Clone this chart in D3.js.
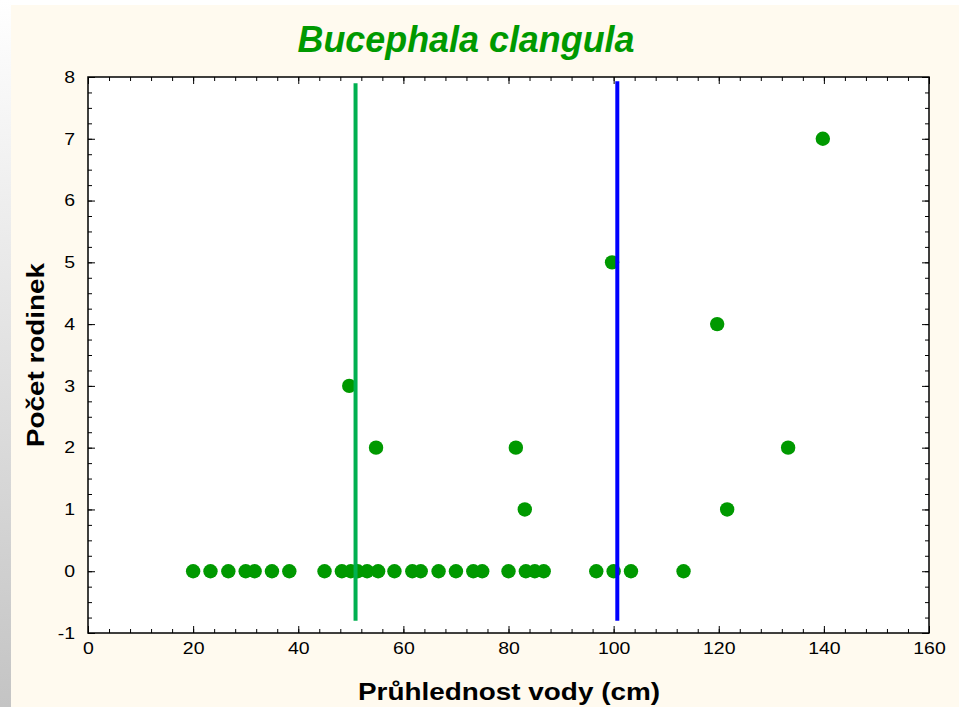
<!DOCTYPE html>
<html>
<head>
<meta charset="utf-8">
<script src="https://cdn.jsdelivr.net/npm/d3@7"></script>
<style>
    html, body { margin: 0; padding: 0; background: #fff; }
    svg { display: block; font-family: Arial, "Liberation Sans", sans-serif; }
</style>
</head>
<body>
<div id="draw"></div>
<script>
(function () {
    "use strict";

    // points sitting on zero
    var zeroX = [20, 23.3, 26.7, 30, 31.7, 35, 38.3, 45, 48.3, 50, 51.3, 53.1, 55.2, 58.3,
        61.7, 63.3, 66.7, 70, 73.3, 75, 80, 83.3, 85, 86.7, 96.7, 100, 103.3, 113.3];
    // the rest
    var upX = [49.7, 54.8, 81.4, 83.1, 99.7, 119.7, 121.6, 133.2, 139.8];
    var upY = [3, 2, 2, 1, 5, 4, 1, 2, 7];

    var xTicks = [0, 20, 40, 60, 80, 100, 120, 140, 160];
    var yTicks = [-1, 0, 1, 2, 3, 4, 5, 6, 7, 8];

    // vertical reference lines: x, from, to, colour
    var refX = [50.9, 100.7];
    var refFrom = [-0.8, -0.8];
    var refTo = [7.9, 7.93];
    var refColor = ['#00b050', '#0000ff'];

    var W = 959, H = 707;
    var L = 88, R = 929, T = 77, B = 633;

    var points = zeroX.map(function (x) { return {x: x, y: 0}; })
        .concat(upX.map(function (x, i) { return {x: x, y: upY[i]}; }));

    var svg = d3.select('#draw').append('svg').attr('width', W).attr('height', H);

    // left grey strip
    var grad = svg.append('defs').append('linearGradient')
        .attr('id', 'strip').attr('x1', 0).attr('y1', 0).attr('x2', 0).attr('y2', 1);
    grad.append('stop').attr('offset', '0%').attr('stop-color', '#ffffff');
    grad.append('stop').attr('offset', '100%').attr('stop-color', '#c4c4c4');
    svg.append('rect').attr('x', 0).attr('y', 0).attr('width', 11).attr('height', H)
        .attr('fill', 'url(#strip)');
    svg.append('rect').attr('x', 11).attr('y', 5).attr('width', W - 11).attr('height', H - 5)
        .attr('fill', '#fffaef');

    var x = d3.scaleLinear().domain([0, 160]).range([L, R]);
    var y = d3.scaleLinear().domain([-1, 8]).range([B, T]);

    svg.append('rect').attr('x', L).attr('y', T).attr('width', R - L).attr('height', B - T)
        .attr('fill', '#fff');

    var minorX = d3.range(0, 161, 4), minorY = d3.range(-1, 8.01, 0.25);

    // the original text is a bit stretched sideways
    function stretch(sel, k) {
        sel.each(function () {
            var w = this.getComputedTextLength();
            d3.select(this).attr('textLength', w * k).attr('lengthAdjust', 'spacingAndGlyphs');
        });
    }

    function styleAxis(g) {
        g.select('.domain').remove();
        g.selectAll('line').attr('stroke', '#000');
        g.selectAll('text').attr('fill', '#000').attr('font-size', 16.5);
    }

    var plain = function (d) { return String(d); }; // hyphen, not unicode minus

    // minor ticks all round
    svg.append('g').attr('transform', 'translate(0,' + B + ')')
        .call(d3.axisBottom(x).tickValues(minorX).tickSize(-4).tickFormat(''))
        .call(styleAxis);
    svg.append('g').attr('transform', 'translate(0,' + T + ')')
        .call(d3.axisTop(x).tickValues(minorX).tickSize(-4).tickFormat(''))
        .call(styleAxis);
    svg.append('g').attr('transform', 'translate(' + L + ',0)')
        .call(d3.axisLeft(y).tickValues(minorY).tickSize(-4).tickFormat(''))
        .call(styleAxis);
    svg.append('g').attr('transform', 'translate(' + R + ',0)')
        .call(d3.axisRight(y).tickValues(minorY).tickSize(-4).tickFormat(''))
        .call(styleAxis);

    // major ticks
    var xa = svg.append('g').attr('transform', 'translate(0,' + B + ')')
        .call(d3.axisBottom(x).tickValues(xTicks).tickSize(-7).tickPadding(9).tickFormat(plain))
        .call(styleAxis);
    svg.append('g').attr('transform', 'translate(0,' + T + ')')
        .call(d3.axisTop(x).tickValues(xTicks).tickSize(-7).tickFormat(''))
        .call(styleAxis);
    var ya = svg.append('g').attr('transform', 'translate(' + L + ',0)')
        .call(d3.axisLeft(y).tickValues(yTicks).tickSize(-7).tickPadding(13).tickFormat(plain))
        .call(styleAxis);
    svg.append('g').attr('transform', 'translate(' + R + ',0)')
        .call(d3.axisRight(y).tickValues(yTicks).tickSize(-7).tickFormat(''))
        .call(styleAxis);
    xa.selectAll('text').call(stretch, 1.18);
    ya.selectAll('text').call(stretch, 1.18);

    svg.append('rect').attr('x', L).attr('y', T).attr('width', R - L).attr('height', B - T)
        .attr('fill', 'none').attr('stroke', '#000').attr('stroke-width', 1.5);

    // the dots
    svg.append('g').selectAll('circle').data(points).enter().append('circle')
        .attr('cx', function (d) { return x(d.x); })
        .attr('cy', function (d) { return y(d.y); })
        .attr('r', 7.2)
        .attr('fill', '#009900');

    // reference lines drawn over the dots
    svg.append('g').selectAll('line').data(refX).enter().append('line')
        .attr('x1', function (d) { return x(d); })
        .attr('x2', function (d) { return x(d); })
        .attr('y1', function (d, i) { return y(refFrom[i]); })
        .attr('y2', function (d, i) { return y(refTo[i]); })
        .attr('stroke', function (d, i) { return refColor[i]; })
        .attr('stroke-width', 4);

    svg.append('text').attr('x', 466).attr('y', 52).attr('text-anchor', 'middle')
        .attr('font-size', 36).attr('font-weight', 'bold').attr('font-style', 'italic')
        .attr('fill', '#009900').attr('textLength', 337).attr('lengthAdjust', 'spacingAndGlyphs')
        .text('Bucephala clangula');

    svg.append('text').attr('x', 509).attr('y', 700).attr('text-anchor', 'middle')
        .attr('font-size', 24).attr('font-weight', 'bold').attr('fill', '#000')
        .attr('textLength', 302).attr('lengthAdjust', 'spacingAndGlyphs')
        .text('Průhlednost vody (cm)');

    svg.append('text').attr('transform', 'translate(44,355) rotate(-90)')
        .attr('text-anchor', 'middle')
        .attr('font-size', 24).attr('font-weight', 'bold').attr('fill', '#000')
        .attr('textLength', 184).attr('lengthAdjust', 'spacingAndGlyphs')
        .text('Počet rodinek');
}());
</script>
</body>
</html>
